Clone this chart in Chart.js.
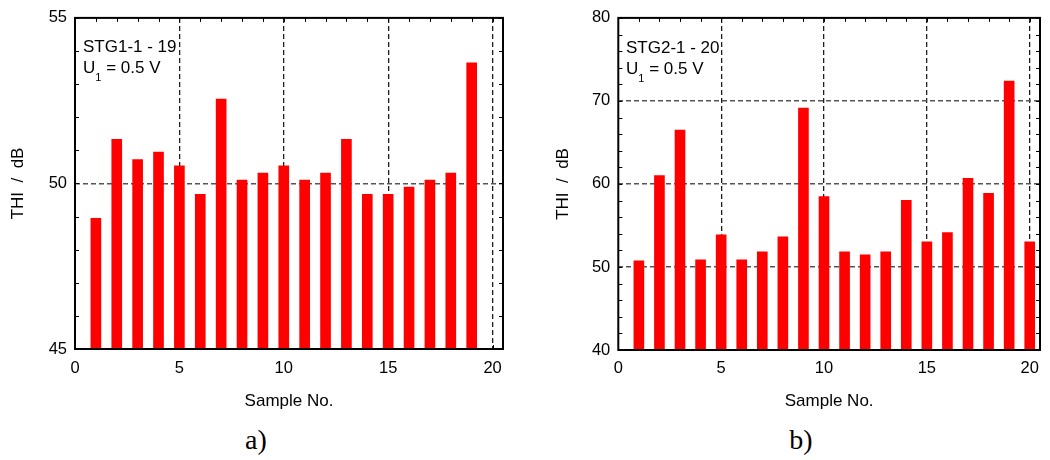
<!DOCTYPE html>
<html><head><meta charset="utf-8">
<script src="https://cdn.jsdelivr.net/npm/chart.js@4.4.1/dist/chart.umd.min.js"></script>
<style>
html,body{margin:0;padding:0;background:#fff;}
body{width:1050px;height:460px;position:relative;overflow:hidden;font-family:"Liberation Sans",Arial,sans-serif;}
canvas{position:absolute;top:0;}
.ann{position:absolute;font-size:17px;line-height:21px;color:#000;white-space:nowrap;}
.ann .sb{font-size:11px;position:relative;top:8px;}
.cap{position:absolute;width:100px;text-align:center;font-family:"Liberation Serif","Times New Roman",serif;font-size:28px;line-height:32px;color:#000;}
</style></head>
<body>
<canvas id="ca" width="525" height="420" style="left:0"></canvas>
<canvas id="cb" width="525" height="420" style="left:525px"></canvas>
<div class="ann" style="left:83px;top:35.5px">STG1-1 - 19<br>U<span class="sb">1</span> = 0.5 V</div>
<div class="ann" style="left:626px;top:37px">STG2-1 - 20<br>U<span class="sb">1</span> = 0.5 V</div>
<div class="cap" style="left:206px;top:424px">a)</div>
<div class="cap" style="left:751px;top:424px">b)</div>
<script>
// ---- data ----
const sampleNoA = [1,2,3,4,5,6,7,8,9,10,11,12,13,14,15,16,17,18,19];
const thiA = [48.95,51.33,50.72,50.95,50.53,49.67,52.55,50.10,50.31,50.53,50.10,50.31,51.33,49.67,49.67,49.89,50.10,50.31,53.64];
const sampleNoB = [1,2,3,4,5,6,7,8,9,10,11,12,13,14,15,16,17,18,19,20];
const thiB = [50.75,61.0,66.5,50.87,53.86,50.87,51.83,53.62,69.15,58.48,51.83,51.47,51.83,58.04,53.02,54.13,60.67,58.88,72.38,53.02];
const xLabelTicks = [0,5,10,15,20];
const xGridTicks = [5,10,15,20];
const yLabelTicksA = [45,50,55];
const yGridTicksA = [50];
const yLabelTicksB = [40,50,60,70,80];
const yGridTicksB = [50,60,70];
const xTitle = 'Sample No.';
const yTitle = 'THI  /  dB';

const FONT = '"Liberation Sans", Arial, sans-serif';

const frameTicks = {
  id: 'frameTicks',
  beforeDatasetsDraw(chart) {
    const {ctx, chartArea: a, scales: {x, y}} = chart;
    const L = 4;
    ctx.save();
    ctx.strokeStyle = '#000';
    ctx.lineWidth = 1;
    ctx.beginPath();
    x.ticks.forEach(t => {
      const px = Math.round(x.getPixelForValue(t.value)) + 0.5;
      ctx.moveTo(px, a.top); ctx.lineTo(px, a.top + L);
      ctx.moveTo(px, a.bottom); ctx.lineTo(px, a.bottom - L);
    });
    y.ticks.forEach(t => {
      const py = Math.round(y.getPixelForValue(t.value)) + 0.5;
      ctx.moveTo(a.left, py); ctx.lineTo(a.left + L, py);
      ctx.moveTo(a.right, py); ctx.lineTo(a.right - L, py);
    });
    ctx.stroke();
    ctx.restore();
  },
  afterDatasetsDraw(chart) {
    const {ctx, chartArea: a} = chart;
    ctx.save();
    ctx.strokeStyle = '#000';
    ctx.lineWidth = 2;
    ctx.strokeRect(a.left, a.top, a.right - a.left, a.bottom - a.top);
    ctx.restore();
  }
};

function makeChart(id, xs, ys, c) {
  return new Chart(document.getElementById(id), {
    type: 'bar',
    data: {
      datasets: [{
        data: xs.map((x, i) => ({x, y: ys[i]})),
        backgroundColor: '#ff0000',
        borderWidth: 0,
        barThickness: 10
      }]
    },
    options: {
      responsive: false,
      animation: false,
      devicePixelRatio: 1,
      layout: {padding: c.pad},
      plugins: {legend: {display: false}, tooltip: {enabled: false}},
      scales: {
        x: {
          type: 'linear',
          offset: false,
          min: 0, max: 20.5,
          afterFit(s) { s.height = c.xH; },
          ticks: {
            stepSize: 1, includeBounds: false, autoSkip: false, maxRotation: 0,
            padding: c.xPad, color: '#000', font: {family: FONT, size: 16.5},
            callback: v => xLabelTicks.includes(v) ? String(v) : ''
          },
          grid: {
            offset: false,
            drawTicks: false, lineWidth: 1.3,
            color: ctx => (ctx.tick && xGridTicks.includes(ctx.tick.value)) ? '#1e1e1e' : 'rgba(0,0,0,0)'
          },
          border: {display: false, dash: [5, 3]},
          title: {display: true, text: xTitle, color: '#000', font: {family: FONT, size: 17}, padding: {top: 0, bottom: 8.8}}
        },
        y: {
          type: 'linear',
          min: c.yMin, max: c.yMax,
          afterFit(s) { s.width = c.yW; },
          ticks: {
            stepSize: c.yStep, autoSkip: false,
            padding: 8, color: '#000', font: {family: FONT, size: 16.5},
            callback: v => c.yLabels.includes(v) ? String(v) : ''
          },
          grid: {
            drawTicks: false, lineWidth: 1.6,
            color: ctx => (ctx.tick && c.yGrid.includes(ctx.tick.value)) ? '#555' : 'rgba(0,0,0,0)'
          },
          border: {display: false, dash: [5, 3]},
          title: {display: true, text: yTitle, color: '#000', font: {family: FONT, size: 17}, padding: {top: c.yTitlePad, bottom: 0}}
        }
      }
    },
    plugins: [frameTicks]
  });
}

makeChart('ca', sampleNoA, thiA, {
  pad: {left: 0, top: 17.5, right: 22, bottom: 0},
  xH: 71, yW: 75, xPad: 10,
  yMin: 45, yMax: 55, yStep: 1,
  yLabels: yLabelTicksA, yGrid: yGridTicksA, yTitlePad: 7.8
});
makeChart('cb', sampleNoB, thiB, {
  pad: {left: 0, top: 15.3, right: 10, bottom: 0},
  xH: 70, yW: 93.3, xPad: 9,
  yMin: 40, yMax: 80, yStep: 2,
  yLabels: yLabelTicksB, yGrid: yGridTicksB, yTitlePad: 27.8
});
</script>
</body></html>
